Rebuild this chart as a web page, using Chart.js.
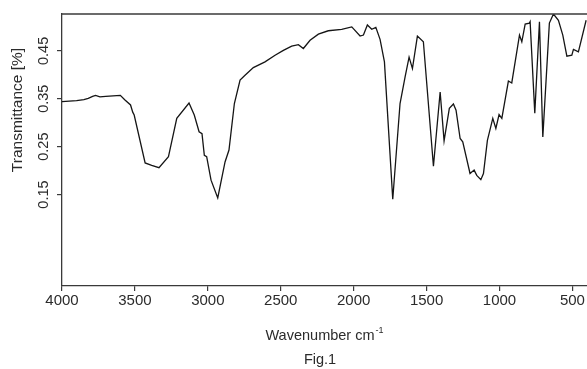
<!DOCTYPE html>
<html><head><meta charset="utf-8">
<script src="https://cdn.jsdelivr.net/npm/chart.js@4.4.0/dist/chart.umd.min.js"></script>
<style>html,body{margin:0;padding:0;background:#fff;overflow:hidden}#wrap{width:587px;height:369px;position:relative}canvas{display:block}</style>
</head><body><div id="wrap"><canvas id="c" width="587" height="369"></canvas></div>
<script>
const wavenumbers = [4000,3950,3900,3850,3820,3790,3770,3740,3700,3650,3600,3570,3530,3515,3505,3430,3385,3335,3270,3213,3129,3093,3060,3040,3024,3008,2978,2932,2882,2855,2818,2779,2745,2688,2608,2539,2482,2425,2379,2345,2299,2242,2174,2082,2013,1956,1933,1906,1876,1848,1819,1789,1732,1682,1647,1620,1597,1563,1522,1453,1407,1380,1344,1316,1298,1270,1252,1202,1174,1156,1128,1110,1083,1046,1025,1003,984,939,916,863,847,824,795,790,758,726,703,658,630,596,566,538,504,493,459,406];
const transmittance = [0.344,0.345,0.346,0.348,0.351,0.355,0.357,0.354,0.355,0.356,0.357,0.348,0.337,0.322,0.316,0.216,0.211,0.206,0.229,0.309,0.341,0.316,0.281,0.277,0.232,0.229,0.180,0.143,0.218,0.243,0.340,0.389,0.399,0.415,0.427,0.441,0.451,0.460,0.463,0.455,0.472,0.485,0.492,0.495,0.500,0.481,0.483,0.504,0.495,0.499,0.474,0.427,0.140,0.340,0.396,0.437,0.413,0.481,0.469,0.209,0.364,0.262,0.330,0.339,0.326,0.267,0.260,0.194,0.201,0.190,0.181,0.194,0.263,0.309,0.288,0.317,0.309,0.387,0.383,0.483,0.469,0.506,0.508,0.511,0.320,0.511,0.270,0.508,0.527,0.514,0.483,0.439,0.441,0.453,0.448,0.514];
const xTickValues = [4000,3500,3000,2500,2000,1500,1000,500];
const yTickValues = [0.15,0.25,0.35,0.45];
const xTitle = 'Wavenumber cm';
const xTitleSup = '-1';
const yTitle = 'Transmittance [%]';
const figLabel = 'Fig.1';

const FONT = '"Liberation Sans", Arial, sans-serif';
const TEXT = '#2b2b2b';
const AXIS = '#3a3a3a';

const decor = {
  id: 'decor',
  afterDraw(chart) {
    const ctx = chart.ctx, a = chart.chartArea, ys = chart.scales.y;
    ctx.save();
    ctx.strokeStyle = AXIS; ctx.lineWidth = 1.3;
    ctx.beginPath(); ctx.moveTo(a.left - 0.6, a.top); ctx.lineTo(a.right, a.top); ctx.stroke();
    ctx.fillStyle = TEXT;
    ctx.font = '14.5px ' + FONT;
    ctx.textAlign = 'center'; ctx.textBaseline = 'middle';
    yTickValues.forEach(v => {
      const y = ys.getPixelForValue(v);
      ctx.save(); ctx.translate(44, y); ctx.rotate(-Math.PI / 2);
      ctx.fillText(v.toFixed(2), 0, 0); ctx.restore();
    });
    ctx.font = '15.5px ' + FONT;
    ctx.save(); ctx.translate(18, 110); ctx.rotate(-Math.PI / 2);
    ctx.fillText(yTitle, 0, 0); ctx.restore();
    ctx.font = '14.5px ' + FONT;
    const w1 = ctx.measureText(xTitle).width;
    ctx.font = '9px ' + FONT;
    const w2 = ctx.measureText(xTitleSup).width;
    const cx = (a.left + a.right) / 2, startX = cx - (w1 + w2 + 1) / 2;
    ctx.textAlign = 'left';
    ctx.font = '14.5px ' + FONT;
    ctx.fillText(xTitle, startX, 336);
    ctx.font = '9px ' + FONT;
    ctx.fillText(xTitleSup, startX + w1 + 1, 331);
    ctx.textAlign = 'center';
    ctx.font = '14.5px ' + FONT;
    ctx.fillText(figLabel, 320, 360);
    ctx.restore();
  }
};

new Chart(document.getElementById('c'), {
  type: 'line',
  data: {
    datasets: [{
      data: wavenumbers.map((x, i) => ({ x: x, y: transmittance[i] })),
      borderColor: '#151515', borderWidth: 1.3, pointRadius: 0, tension: 0, fill: false
    }]
  },
  options: {
    responsive: false, animation: false,
    layout: { padding: { top: 14, left: 0, right: 0, bottom: 0 } },
    plugins: { legend: { display: false }, tooltip: { enabled: false }, title: { display: false } },
    scales: {
      x: {
        type: 'linear', reverse: true, min: 400, max: 4000,
        afterBuildTicks: s => { s.ticks = xTickValues.map(v => ({ value: v })); },
        afterFit: s => { s.height = 83; },
        grid: { drawOnChartArea: false, tickLength: 5, color: AXIS, lineWidth: 1.2 },
        border: { display: true, color: AXIS, width: 1.3 },
        ticks: { color: TEXT, font: { family: FONT, size: 15 }, padding: 1, maxRotation: 0, minRotation: 0, autoSkip: false, callback: v => String(v) }
      },
      y: {
        type: 'linear', min: -0.041, max: 0.527,
        afterBuildTicks: s => { s.ticks = yTickValues.map(v => ({ value: v })); },
        afterFit: s => { s.width = 62; },
        grid: { drawOnChartArea: false, tickLength: 5, color: AXIS, lineWidth: 1.2 },
        border: { display: true, color: AXIS, width: 1.3 },
        ticks: { color: 'rgba(0,0,0,0)', font: { family: FONT, size: 14 }, autoSkip: false }
      }
    }
  },
  plugins: [decor]
});
</script>
</body></html>
